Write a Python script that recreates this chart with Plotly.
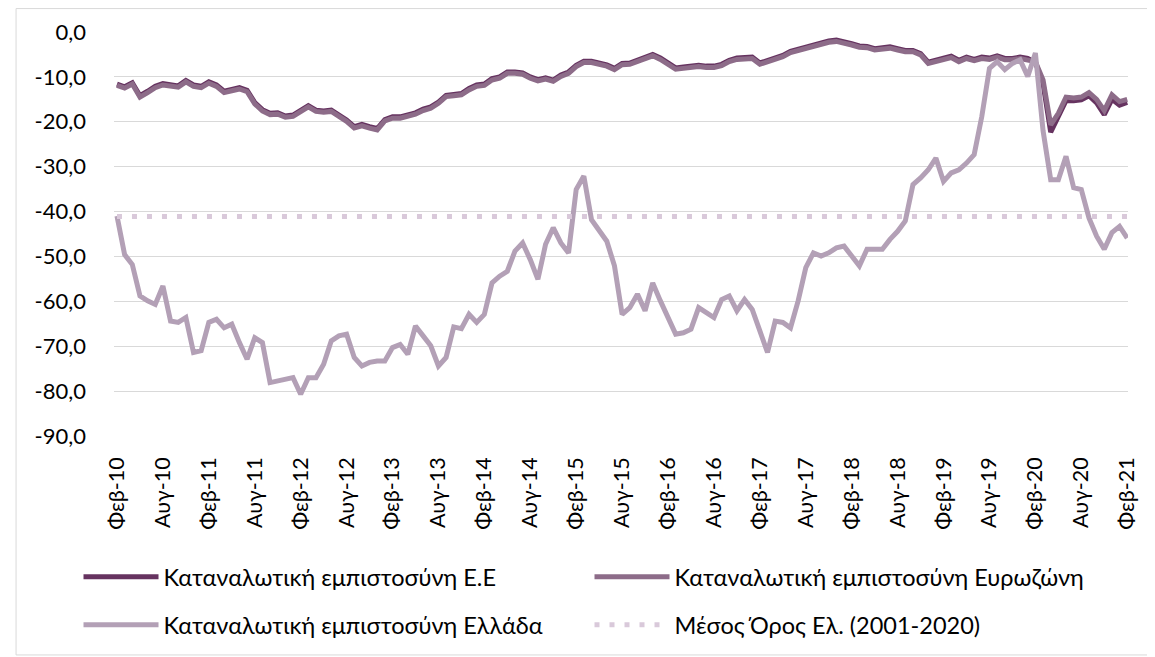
import plotly.graph_objects as go

# Μήνες Φεβ-2010 ... Φεβ-2021
month_names = ["Ιαν", "Φεβ", "Μαρ", "Απρ", "Μαϊ", "Ιουν", "Ιουλ", "Αυγ", "Σεπ", "Οκτ", "Νοε", "Δεκ"]
months = [f"{month_names[(1 + i) % 12]}-{10 + (1 + i) // 12:02d}" for i in range(133)]
tick_months = months[::6]

eu = [
    -11.6, -12.2, -11.3, -14.2, -13.2, -12.1, -11.5, -11.8, -12.0, -10.8, -11.8, -12.1,
    -11.1, -11.8, -13.2, -12.8, -12.4, -13.0, -15.7, -17.3, -18.1, -18.0, -18.7, -18.5,
    -17.4, -16.4, -17.4, -17.6, -17.4, -18.5, -19.6, -21.1, -20.6, -21.1, -21.5, -19.5,
    -18.9, -18.9, -18.4, -18.0, -17.2, -16.7, -15.6, -14.1, -13.9, -13.7,
    -12.6, -11.8, -11.6, -10.4, -10.0, -8.9, -8.9, -9.1, -10.0, -10.6, -10.2, -10.7,
    -9.6, -8.9, -7.4, -6.5, -6.5, -6.8, -7.3, -8.1, -7.0, -6.9, -6.3, -5.7,
    -5.0, -5.8, -6.9, -8.0, -7.8, -7.6, -7.4, -7.6, -7.6, -7.2, -6.3, -5.8,
    -5.6, -5.6, -6.9, -6.3, -5.8, -5.2, -4.3, -3.8,
    -3.3, -3.0, -2.4, -2.0, -1.8, -2.1, -2.6, -3.1, -3.2, -3.7, -3.6, -3.3,
    -3.7, -4.1, -4.1, -4.8, -6.7, -6.3, -5.9, -5.4, -6.3, -5.6, -6.1, -5.6,
    -5.8, -5.3, -5.9, -5.9, -5.6, -5.9, -6.8, -11.5, -22.3, -19.0, -15.3, -15.3,
    -15.1, -14.2, -15.8, -18.4, -15.0, -16.3, -15.7,
]

eurozone = [
    -11.9, -12.5, -11.6, -14.5, -13.5, -12.4, -11.8, -12.1, -12.3, -11.1, -12.1, -12.4,
    -11.4, -12.1, -13.5, -13.1, -12.7, -13.3, -16.0, -17.6, -18.4, -18.3, -19.0, -18.8,
    -17.7, -16.7, -17.7, -17.9, -17.7, -18.8, -19.9, -21.4, -20.9, -21.4, -21.8, -19.8,
    -19.2, -19.2, -18.7, -18.3, -17.5, -17.0, -15.9, -14.4, -14.2, -14.0,
    -12.9, -12.1, -11.9, -10.7, -10.3, -9.2, -9.2, -9.4, -10.3, -10.9, -10.5, -11.0,
    -9.9, -9.2, -7.7, -6.8, -6.8, -7.1, -7.6, -8.4, -7.3, -7.2, -6.6, -6.0,
    -5.3, -6.1, -7.2, -8.3, -8.1, -7.9, -7.7, -7.9, -7.9, -7.5, -6.6, -6.1,
    -5.9, -5.9, -7.2, -6.6, -6.1, -5.5, -4.6, -4.1,
    -3.6, -3.3, -2.7, -2.3, -2.1, -2.4, -2.9, -3.4, -3.5, -4.0, -3.9, -3.6,
    -4.0, -4.4, -4.4, -5.1, -7.0, -6.6, -6.2, -5.7, -6.6, -5.9, -6.4, -5.9,
    -6.1, -5.6, -6.2, -6.2, -5.9, -6.2, -6.6, -10.7, -20.7, -18.1, -14.5, -14.7,
    -14.5, -13.5, -15.0, -17.5, -14.0, -15.5, -15.0,
]

greece = [
    -41.0, -49.6, -51.8, -58.8, -59.9, -60.7, -56.6, -64.4, -64.7, -63.6, -71.4, -71.0,
    -64.7, -64.0, -65.9, -65.1, -69.2, -72.9, -68.1, -69.2, -78.1, -77.7, -77.3, -77.0,
    -80.7, -77.0, -77.0, -74.0, -68.8, -67.7, -67.3, -72.5, -74.4, -73.6, -73.3, -73.3,
    -70.3, -69.6, -71.8, -65.5, -67.7, -69.9, -74.4, -72.5, -65.7, -66.1,
    -62.9, -64.7, -62.9, -55.9, -54.4, -53.3, -48.8, -47.0, -50.7, -55.1, -47.3, -43.6,
    -47.0, -49.2, -35.1, -32.1, -41.8, -44.0, -46.6, -52.1, -62.9, -61.4, -58.4, -62.1,
    -55.9, -59.9, -63.3, -67.3, -67.0, -66.2, -61.4, -62.5, -63.6, -59.6, -58.8, -62.1,
    -59.6, -61.8, -67.0, -71.4, -64.4, -64.7, -65.9, -59.9,
    -52.5, -49.2, -49.9, -49.2, -48.1, -47.7, -49.9, -52.1, -48.4, -48.4, -48.4, -46.2,
    -44.4, -42.1, -34.0, -32.5, -30.7, -28.1, -33.3, -31.4, -30.7, -29.2, -27.3, -18.8,
    -8.1, -6.6, -8.4, -7.0, -6.2, -9.9, -4.7, -22.0, -32.9, -32.9, -27.7, -34.7,
    -35.1, -41.4, -45.5, -48.4, -44.7, -43.3, -45.9,
]

greece_mean = [-41.1] * len(months)

y_ticks = [0, -10, -20, -30, -40, -50, -60, -70, -80, -90]
y_labels = ["0,0", "-10,0", "-20,0", "-30,0", "-40,0", "-50,0", "-60,0", "-70,0", "-80,0", "-90,0"]

font_name = "Lato, Noto Sans"

fig = go.Figure()
fig.add_trace(go.Scatter(x=months, y=eu, mode="lines", name="Καταναλωτική εμπιστοσύνη Ε.Ε",
                         line=dict(color="#663360", width=5), legend="legend"))
fig.add_trace(go.Scatter(x=months, y=eurozone, mode="lines", name="Καταναλωτική εμπιστοσύνη Ευρωζώνη",
                         line=dict(color="#8D6C89", width=5), legend="legend"))
fig.add_trace(go.Scatter(x=months, y=greece, mode="lines", name="Καταναλωτική εμπιστοσύνη Ελλάδα",
                         line=dict(color="#B3A0B6", width=5), legend="legend2"))
fig.add_trace(go.Scatter(x=months, y=greece_mean, mode="lines", name="Μέσος Όρος Ελ. (2001-2020)",
                         line=dict(color="#D9C9DA", width=5, dash="5px,10px"), legend="legend2"))

leg = dict(orientation="h", x=-0.035, xanchor="left", yanchor="middle",
           entrywidth=421, entrywidthmode="pixels", itemwidth=75,
           font=dict(family=font_name, size=23.5, color="black"), bgcolor="rgba(0,0,0,0)")

# η σελίδα έχει 8px περιθώριο, γι' αυτό l/t είναι μικρότερα
fig.update_layout(
    width=1155, height=657,
    margin=dict(l=106, r=35, t=24, b=229, autoexpand=False),
    paper_bgcolor="white", plot_bgcolor="white",
    font=dict(family=font_name, size=22, color="black"),
    showlegend=True,
    legend=dict(leg, y=-0.349),
    legend2=dict(leg, y=-0.468),
    shapes=[dict(type="rect", xref="paper", yref="paper",
                 x0=-0.0966, x1=1.0247, y0=-0.542, y1=1.058,
                 line=dict(color="#D9D9D9", width=1), layer="below")],
)
fig.update_xaxes(type="category", categoryorder="array", categoryarray=months,
                 range=[-0.39, 132.1], tickmode="array", tickvals=tick_months, ticktext=tick_months,
                 tickangle=-90, showgrid=False, zeroline=False, showline=False, ticks="",
                 ticklabelstandoff=16, tickfont=dict(size=21.5), automargin=False)
fig.update_yaxes(range=[-90, 0], tickmode="array", tickvals=y_ticks, ticktext=y_labels,
                 showgrid=True, gridcolor="#D9D9D9", gridwidth=1, zeroline=False, showline=False,
                 ticks="", ticklabelstandoff=27, tickfont=dict(size=22), automargin=False)

fig.write_html("out.html")
